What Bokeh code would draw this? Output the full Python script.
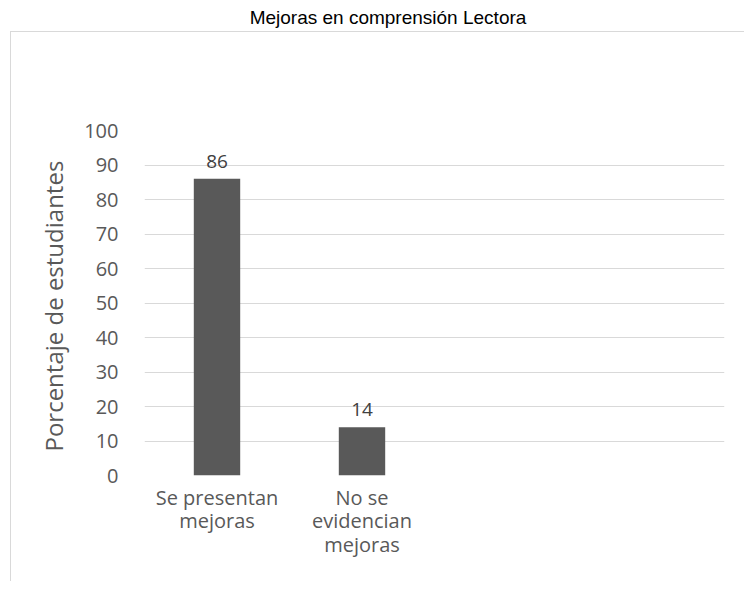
from bokeh.plotting import figure
from bokeh.models import ColumnDataSource, FixedTicker, Range1d, LabelSet, Div
from bokeh.layouts import column
from bokeh.core.properties import value
from bokeh.embed import file_html
from bokeh.resources import INLINE

# ---- data ----
title_text = "Mejoras en comprensión Lectora"
categories = ["Se presentan\nmejoras", "No se\nevidencian\nmejoras"]
values = [86, 14]
n_slots = 4  # the chart reserves four category slots; two are empty
y_ticks = [0, 10, 20, 30, 40, 50, 60, 70, 80, 90, 100]
y_label = "Porcentaje  de estudiantes"

xs = [i + 1 for i in range(len(categories))]
src = ColumnDataSource(dict(x=xs, y=values, lbl=[str(v) for v in values]))

p = figure(width=734, height=550, output_backend="svg", toolbar_location=None,
           x_range=Range1d(0.5, n_slots + 0.5), y_range=Range1d(0, 100),
           min_border_left=133, min_border_right=21, min_border_top=98,
           min_border_bottom=107)
p.margin = (0, 0, 0, 10)
p.styles = {"border-left": "1px solid #d9d9d9", "border-top": "1px solid #d9d9d9"}
p.outline_line_color = None

p.vbar(x="x", top="y", width=0.32, source=src, fill_color="#595959", line_color=None)

labels = LabelSet(x="x", y="y", text="lbl", source=src, text_align="center",
                  text_baseline="bottom", y_offset=11, text_color="#404040",
                  text_font_size="19px", text_font=value("Open Sans"))
p.add_layout(labels)

p.yaxis.ticker = FixedTicker(ticks=y_ticks)
p.xaxis.ticker = FixedTicker(ticks=xs)
p.xaxis.major_label_overrides = {x: c for x, c in zip(xs, categories)}

for ax in (p.xaxis[0], p.yaxis[0]):
    ax.axis_line_color = None
    ax.major_tick_line_color = None
    ax.minor_tick_line_color = None
    ax.major_label_text_color = "#595959"
    ax.major_label_text_font = "Open Sans"
    ax.major_label_text_font_size = "20px"

p.xaxis.major_label_text_line_height = 0.88
p.yaxis.major_label_standoff = 20
p.xaxis.major_label_standoff = 2
p.yaxis.axis_label = y_label
p.yaxis.axis_label_text_font = "Open Sans"
p.yaxis.axis_label_text_font_size = "24px"
p.yaxis.axis_label_text_font_style = "normal"
p.yaxis.axis_label_text_color = "#595959"
p.yaxis.axis_label_standoff = 11

p.xgrid.grid_line_color = None
p.ygrid.grid_line_color = "#d9d9d9"
p.ygrid.grid_line_width = 1

title = Div(text=title_text, width=734, height=21,
            styles={"font-family": "Liberation Sans", "font-size": "19px",
                    "color": "#000000", "text-align": "center",
                    "padding-left": "32px", "padding-top": "3px",
                    "line-height": "20px"})

layout = column(title, p, spacing=0)
open("out.html", "w").write(file_html(layout, INLINE))
